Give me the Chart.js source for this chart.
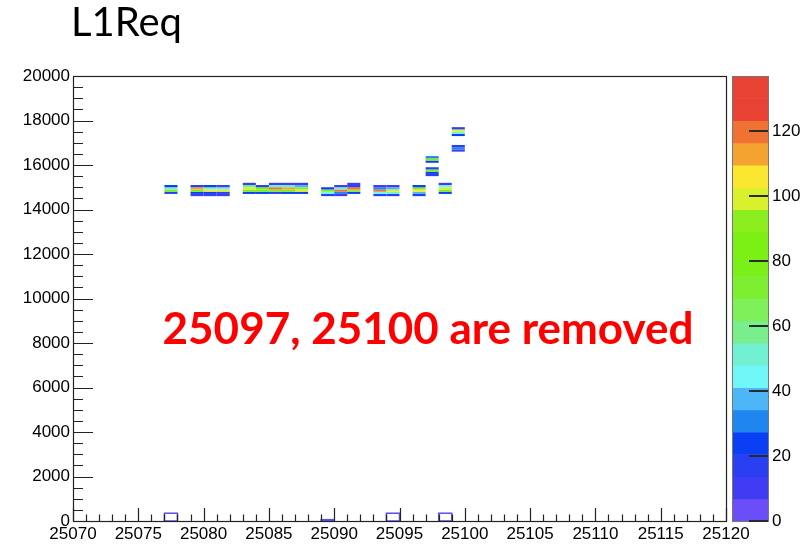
<!DOCTYPE html>
<html>
<head>
<meta charset="utf-8">
<script src="https://cdn.jsdelivr.net/npm/chart.js@4.4.0/dist/chart.umd.min.js"></script>
<style>
  html, body { margin: 0; padding: 0; background: #fff; }
</style>
</head>
<body>
<canvas id="l1reqChart" width="804" height="544"></canvas>
<script>
// Axis ranges
const runMin = 25070;
const runMax = 25120;
const reqMax = 20000;
const countMax = 137;
const binHeight = 100;

// 2D histogram cells: run bin (low edge), L1Req bin (low edge), entries
const cellRun = [
  25077, 25077, 25077, 25077,
  25079, 25079, 25079, 25079, 25079,
  25080, 25080, 25080, 25080, 25080,
  25081, 25081, 25081, 25081, 25081,
  25083, 25083, 25083, 25083, 25083,
  25084, 25084, 25084, 25084,
  25085, 25085, 25085, 25085, 25085,
  25086, 25086, 25086, 25086, 25086,
  25087, 25087, 25087, 25087, 25087,
  25089, 25089, 25089, 25089,
  25090, 25090, 25090, 25090, 25090,
  25091, 25091, 25091, 25091, 25091,
  25093, 25093, 25093, 25093, 25093,
  25094, 25094, 25094, 25094, 25094,
  25096, 25096, 25096, 25096, 25096,
  25097, 25097, 25097, 25097, 25097, 25097, 25097,
  25098, 25098, 25098, 25098, 25098,
  25099, 25099, 25099, 25099, 25099, 25099, 25099
];
const cellReq = [
  14700, 14800, 14900, 15000,
  14600, 14700, 14800, 14900, 15000,
  14600, 14700, 14800, 14900, 15000,
  14600, 14700, 14800, 14900, 15000,
  14700, 14800, 14900, 15000, 15100,
  14700, 14800, 14900, 15000,
  14700, 14800, 14900, 15000, 15100,
  14700, 14800, 14900, 15000, 15100,
  14700, 14800, 14900, 15000, 15100,
  14600, 14700, 14800, 14900,
  14600, 14700, 14800, 14900, 15000,
  14700, 14800, 14900, 15000, 15100,
  14600, 14700, 14800, 14900, 15000,
  14600, 14700, 14800, 14900, 15000,
  14600, 14700, 14800, 14900, 15000,
  15500, 15600, 15700, 15800, 16100, 16200, 16300,
  14700, 14800, 14900, 15000, 15100,
  16600, 16700, 16800, 17300, 17400, 17500, 17600
];
const cellCount = [
  20, 85, 50, 25,
  10, 25, 85, 112, 15,
  8, 22, 105, 48, 25,
  12, 20, 100, 50, 10,
  22, 80, 100, 55, 8,
  25, 82, 85, 20,
  20, 80, 120, 48, 8,
  22, 85, 112, 50, 8,
  25, 100, 90, 40, 8,
  20, 45, 85, 25,
  12, 30, 120, 50, 10,
  25, 95, 118, 20, 10,
  15, 45, 118, 30, 12,
  15, 50, 102, 35, 12,
  15, 40, 105, 80, 25,
  18, 25, 80, 20, 25, 80, 30,
  25, 80, 100, 45, 12,
  12, 28, 18, 25, 50, 100, 20
];

// near-zero bins, drawn as outlines
const lowRun = [25077, 25089, 25094, 25098];
const lowTop = [350, 60, 350, 350];

// colour palette, bottom to top (20 levels)
const paletteColors = [
  "#6b4ef7", "#3f3cf3", "#2a3ff2", "#0a3ff5", "#1f86f0",
  "#4cb6f7", "#70f7f7", "#72f0d2", "#78ef8c", "#7fef5a",
  "#7eee30", "#7bef18", "#7cf014", "#8cee1e", "#d9f02c",
  "#fbe630", "#f4a230", "#ef7233", "#e84235", "#e84235"
];

function colorFor(count) {
  const idx = Math.min(paletteColors.length - 1, Math.floor((count / countMax) * paletteColors.length));
  return paletteColors[idx];
}

const tickFont = { family: "'Liberation Sans', Arial, sans-serif", size: 17 };

const cells = cellRun.map((r, i) => ({ x: r + 0.5, y: cellReq[i] + binHeight / 2, v: cellCount[i] }));

const histPlugin = {
  id: "histPlugin",
  afterDatasetsDraw(chart) {
    const c = chart.ctx;
    const xs = chart.scales.x;
    const ys = chart.scales.y;
    c.save();
    // filled cells
    chart.data.datasets[0].data.forEach((p) => {
      const x0 = xs.getPixelForValue(p.x - 0.5);
      const x1 = xs.getPixelForValue(p.x + 0.5);
      const y0 = ys.getPixelForValue(p.y + binHeight / 2);
      const y1 = ys.getPixelForValue(p.y - binHeight / 2);
      c.fillStyle = colorFor(p.v);
      c.fillRect(x0, y0, x1 - x0, y1 - y0);
    });
    // low bins
    c.strokeStyle = "#5a50f0";
    c.lineWidth = 1.5;
    lowRun.forEach((r, i) => {
      const x0 = xs.getPixelForValue(r);
      const x1 = xs.getPixelForValue(r + 1);
      const y0 = ys.getPixelForValue(lowTop[i]);
      const y1 = ys.getPixelForValue(0);
      c.strokeRect(x0, y0, x1 - x0, y1 - y0);
    });
    c.restore();
  },
  afterDraw(chart) {
    const c = chart.ctx;
    const area = chart.chartArea;
    const xs = chart.scales.x;
    const ys = chart.scales.y;
    const zs = chart.scales.z;
    c.save();

    // frame
    c.strokeStyle = "#222";
    c.lineWidth = 1.2;
    c.strokeRect(area.left + 0.5, area.top + 0.5, area.right - area.left, area.bottom - area.top);

    // y ticks (inside)
    c.beginPath();
    for (let v = 0; v <= reqMax; v += 500) {
      const py = Math.round(ys.getPixelForValue(v)) + 0.5;
      const len = v % 2000 === 0 ? 20 : 10;
      c.moveTo(area.left, py);
      c.lineTo(area.left + len, py);
    }
    // x ticks (inside)
    for (let v = runMin; v <= runMax; v += 1) {
      const px = Math.round(xs.getPixelForValue(v)) + 0.5;
      const len = v % 5 === 0 ? 13 : 6.5;
      c.moveTo(px, area.bottom);
      c.lineTo(px, area.bottom - len);
    }
    c.stroke();

    // colour bar
    const barL = zs.left + 6;
    const barR = zs.left + 42;
    const step = countMax / paletteColors.length;
    paletteColors.forEach((col, i) => {
      const top = zs.getPixelForValue((i + 1) * step);
      const bot = zs.getPixelForValue(i * step);
      c.fillStyle = col;
      c.fillRect(barL, top, barR - barL, bot - top + 0.5);
    });
    c.strokeStyle = "#777";
    c.lineWidth = 1;
    c.strokeRect(barL + 0.5, area.top + 0.5, barR - barL, area.bottom - area.top);
    c.strokeStyle = "#2a2a2a";
    c.lineWidth = 2;
    c.beginPath();
    zs.ticks.forEach((t) => {
      if (t.value % 20 !== 0) return;
      const py = Math.round(zs.getPixelForValue(t.value));
      c.moveTo(barR, py);
      c.lineTo(barR - 19, py);
    });
    c.stroke();

    // title and note
    c.fillStyle = "#000";
    c.font = "40px Lato, 'Open Sans', sans-serif";
    c.textAlign = "left";
    c.textBaseline = "alphabetic";
    c.fillText("L1Req", 71, 36);

    c.fillStyle = "#ff0000";
    c.font = "bold 44px Lato, 'Open Sans', sans-serif";
    c.textAlign = "center";
    c.fillText("25097, 25100 are removed", 428, 344);
    c.restore();
  },
};

new Chart(document.getElementById("l1reqChart"), {
  type: "scatter",
  data: {
    datasets: [
      {
        label: "L1Req",
        data: cells,
        pointRadius: 0,
        pointHoverRadius: 0,
      },
    ],
  },
  options: {
    responsive: false,
    animation: false,
    layout: { padding: { top: 76, left: 0, right: 0, bottom: 0 } },
    plugins: {
      legend: { display: false },
      tooltip: { enabled: false },
      title: { display: false },
    },
    scales: {
      x: {
        type: "linear",
        min: runMin,
        max: runMax,
        grid: { display: false, drawTicks: false },
        border: { display: false },
        ticks: {
          stepSize: 5,
          autoSkip: false,
          maxRotation: 0,
          padding: 3,
          color: "#000",
          font: tickFont,
          callback: (v) => String(v),
        },
        afterFit: (s) => { s.height = 23; },
      },
      y: {
        type: "linear",
        min: 0,
        max: reqMax,
        grid: { display: false, drawTicks: false },
        border: { display: false },
        ticks: {
          stepSize: 2000,
          autoSkip: false,
          padding: 3,
          color: "#000",
          font: tickFont,
          callback: (v) => String(v),
        },
        afterFit: (s) => { s.width = 73; },
      },
      z: {
        type: "linear",
        position: "right",
        min: 0,
        max: countMax,
        grid: { display: false, drawTicks: true, tickLength: 45 },
        border: { display: false },
        ticks: {
          stepSize: 20,
          autoSkip: false,
          padding: 1,
          color: "#000",
          font: tickFont,
          callback: (v) => (v % 20 === 0 ? String(v) : ""),
        },
        afterFit: (s) => { s.width = 78; },
      },
    },
  },
  plugins: [histPlugin],
});
</script>
</body>
</html>
